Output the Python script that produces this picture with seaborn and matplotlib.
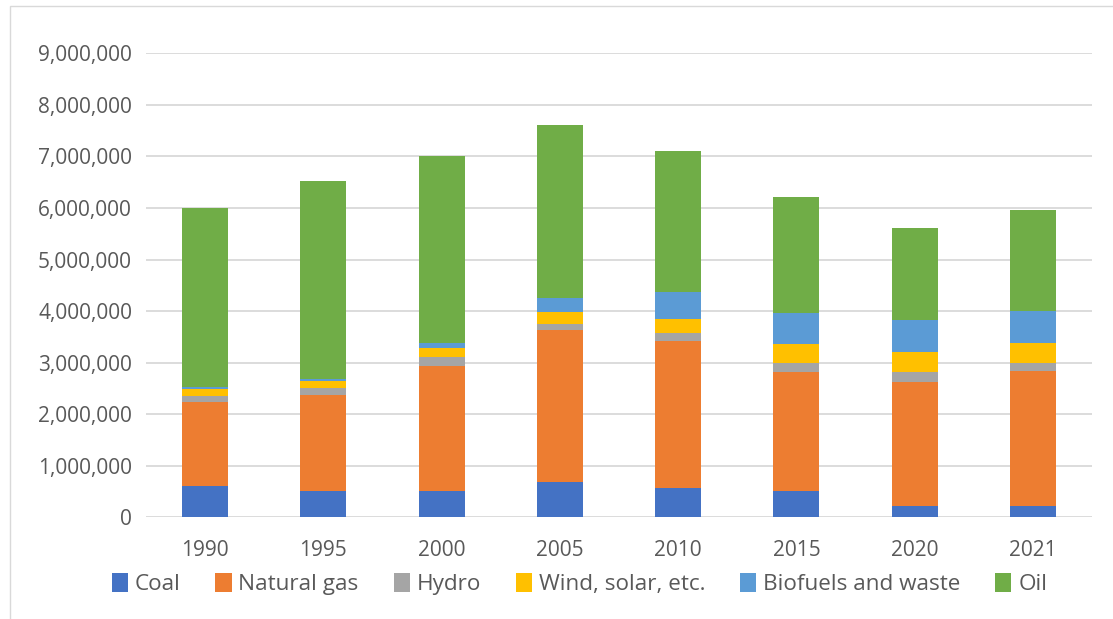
import matplotlib
matplotlib.use("Agg")
import matplotlib.pyplot as plt
from matplotlib.patches import Rectangle, Patch
from matplotlib.ticker import FuncFormatter
import seaborn as sns
import pandas as pd
import numpy as np

# Energy supply by source
years = ["1990", "1995", "2000", "2005", "2010", "2015", "2020", "2021"]
coal = [610000, 510000, 510000, 680000, 565000, 510000, 210000, 220000]
natural_gas = [1630000, 1870000, 2430000, 2960000, 2845000, 2310000, 2420000, 2610000]
hydro = [110000, 120000, 160000, 110000, 170000, 170000, 180000, 160000]
wind_solar = [140000, 150000, 180000, 230000, 260000, 370000, 400000, 400000]
biofuels = [30000, 40000, 100000, 270000, 530000, 600000, 610000, 620000]
oil = [3480000, 3830000, 3630000, 3360000, 2730000, 2250000, 1800000, 1960000]

sources = ["Coal", "Natural gas", "Hydro", "Wind, solar, etc.", "Biofuels and waste", "Oil"]
series = [coal, natural_gas, hydro, wind_solar, biofuels, oil]
colors = ["#4472C4", "#ED7D31", "#A5A5A5", "#FFC000", "#5B9BD5", "#70AD47"]

sns.set_theme(style="white")
plt.rcParams["font.family"] = ["Open Sans", "DejaVu Sans"]

W, H = 1113, 619
fig = plt.figure(figsize=(W / 100, H / 100), dpi=100)
ax = fig.add_axes([146 / W, (H - 517.3) / H, (1092 - 146) / W, (517.3 - 53.3) / H])

df = pd.DataFrame({"year": years})
bottom = np.zeros(len(years))
for name, vals, col in zip(sources, series, colors):
    df[name] = vals
    sns.barplot(data=df, x="year", y=name, order=years, color=col,
                width=0.39, bottom=bottom.copy(), saturation=1,
                linewidth=0, ax=ax, zorder=3)
    bottom += np.array(vals, dtype=float)

ax.set_ylim(0, 9000000)
ax.set_yticks(np.arange(0, 9000001, 1000000))
ax.yaxis.set_major_formatter(FuncFormatter(lambda v, p: f"{int(v):,}"))
ax.set_xlabel("")
ax.set_ylabel("")
ax.grid(axis="y", color="#D9D9D9", linewidth=1.3, zorder=0)
ax.grid(axis="x", visible=False)
for s in ax.spines.values():
    s.set_visible(False)
ax.tick_params(axis="y", length=0, pad=10, labelsize=15, labelcolor="#595959")
ax.tick_params(axis="x", length=0, pad=16, labelsize=15, labelcolor="#595959")

handles = [Patch(facecolor=c, edgecolor="none") for c in colors]
fig.legend(handles, sources, loc="center", ncol=6,
           bbox_to_anchor=(579.5 / W, (H - 584) / H), frameon=False,
           fontsize=16.2, labelcolor="#595959", handlelength=0.72,
           handleheight=0.95, handletextpad=0.3, columnspacing=1.55)

# Chart frame
fig.patches.append(Rectangle((10 / W, -0.01), 1.05, (H - 6) / H + 0.01,
                             transform=fig.transFigure, fill=False,
                             edgecolor="#D9D9D9", linewidth=1))

fig.savefig("out.png", dpi=100)
